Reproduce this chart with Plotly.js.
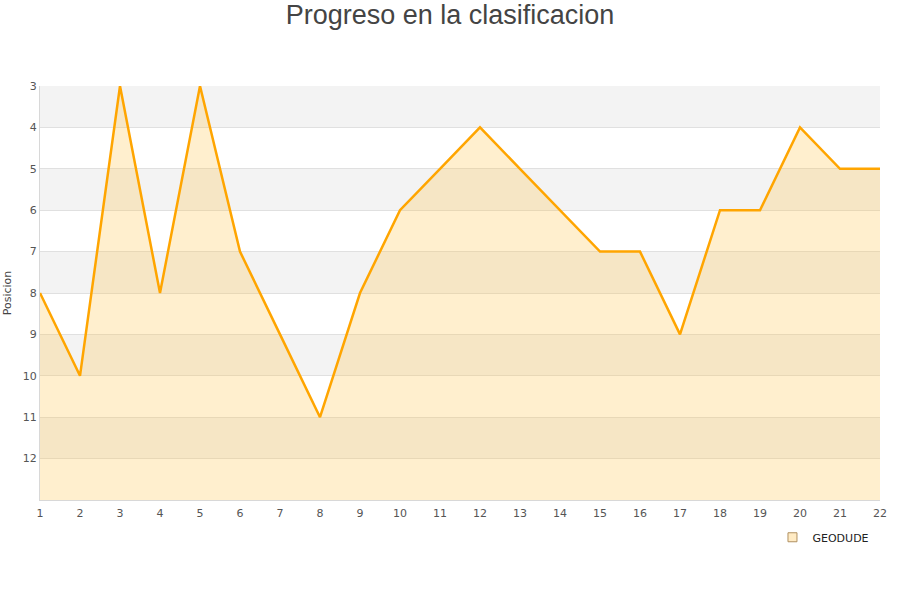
<!DOCTYPE html>
<html>
<head>
<meta charset="utf-8">
<script src="https://cdn.plot.ly/plotly-3.0.1.min.js"></script>
<style>body{margin:0;padding:0;background:#fff;} #chart{width:900px;height:600px;}</style>
</head>
<body>
<div id="chart"></div>
<script>
const jornadas = [1,2,3,4,5,6,7,8,9,10,11,12,13,14,15,16,17,18,19,20,21,22];
const posiciones = [8,10,3,8,3,7,9,11,8,6,5,4,5,6,7,7,9,6,6,4,5,5];
const equipo = "GEODUDE";
const bandStarts = [3,5,7,9,11];
const yTicks = [3,4,5,6,7,8,9,10,11,12];

const baseline = {
  x: jornadas, y: jornadas.map(() => 13),
  mode: 'lines', line: {width: 0, color: 'rgba(0,0,0,0)'},
  hoverinfo: 'skip', showlegend: false
};
const main = {
  x: jornadas, y: posiciones, mode: 'lines', fill: 'tonexty',
  fillcolor: 'rgba(255,190,60,0.25)',
  line: {color: '#FFA500', width: 2.5}, name: equipo, showlegend: false
};
const legendDummy = {
  x: [null], y: [null], mode: 'markers', name: equipo,
  marker: {symbol: 'square', size: 9, color: '#FFEBC4', line: {color: '#B09060', width: 1}}
};

const shapes = bandStarts.map(s => ({
  type: 'rect', xref: 'paper', yref: 'y', x0: 0, x1: 1, y0: s, y1: s + 1,
  fillcolor: '#F3F3F3', line: {width: 0}, layer: 'below'
}));

const layout = {
  width: 900, height: 600,
  margin: {l: 40, r: 20, t: 86, b: 100},
  paper_bgcolor: '#fff', plot_bgcolor: '#fff',
  title: {text: 'Progreso en la clasificacion', x: 0.5, xanchor: 'center', y: 0.975, yanchor: 'middle',
          font: {family: 'Liberation Sans, Arial, sans-serif', size: 27, color: '#444'}},
  font: {family: 'DejaVu Sans, sans-serif', size: 11, color: '#555'},
  xaxis: {range: [1, 22], tickvals: jornadas, showgrid: false, zeroline: false,
          showline: true, linecolor: '#d8d8d8', linewidth: 1, ticks: '', fixedrange: true,
          ticklabelstandoff: 3, tickfont: {size: 11, color: '#555'}},
  yaxis: {range: [13, 3], tickvals: yTicks, showgrid: true, gridcolor: '#e0e0e0', zeroline: false,
          showline: true, linecolor: '#d8d8d8', linewidth: 1, ticks: '',
          title: {text: 'Posicion', font: {size: 11, color: '#444'}, standoff: 8},
          tickfont: {size: 11, color: '#555'}},
  shapes: shapes,
  showlegend: true,
  legend: {x: 0.872, y: -0.09, xanchor: 'left', yanchor: 'middle', itemwidth: 30,
           font: {size: 11, color: '#222'}, bgcolor: 'rgba(0,0,0,0)'}
};

Plotly.newPlot('chart', [baseline, main, legendDummy], layout, {displayModeBar: false, staticPlot: true});
</script>
</body>
</html>
